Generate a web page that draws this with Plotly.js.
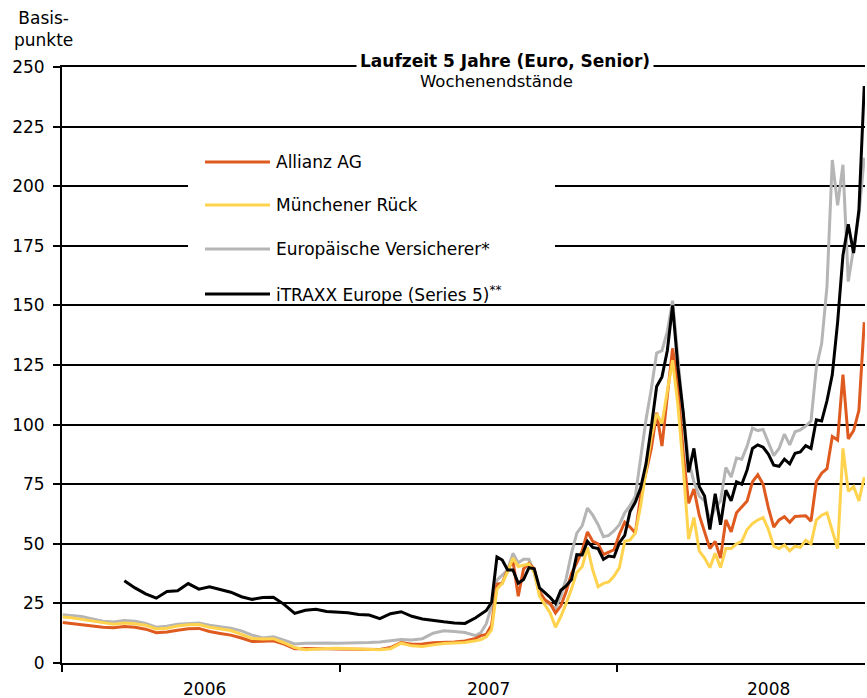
<!DOCTYPE html>
<html>
<head>
<meta charset="utf-8">
<script src="https://cdn.plot.ly/plotly-3.0.1.min.js"></script>
<style>
  body { margin: 0; background: #fff; }
  #chart { width: 867px; height: 698px; }
</style>
</head>
<body>
<div id="chart"></div>
<script>
// weekly closing levels (biweekly until mid 2007), basis points
var dates = [
  '2006-01-02','2006-01-13','2006-01-27','2006-02-10','2006-02-24','2006-03-10','2006-03-24','2006-04-07','2006-04-21','2006-05-05',
  '2006-05-19','2006-06-02','2006-06-16','2006-06-30','2006-07-14','2006-07-28','2006-08-11','2006-08-25','2006-09-08','2006-09-22',
  '2006-10-06','2006-10-20','2006-11-03','2006-11-17','2006-12-01','2006-12-15','2006-12-29',
  '2007-01-12','2007-01-26','2007-02-09','2007-02-23','2007-03-09','2007-03-23','2007-04-06','2007-04-20','2007-05-04','2007-05-18',
  '2007-06-01','2007-06-15','2007-06-29',
  '2007-07-06','2007-07-13','2007-07-20','2007-07-27','2007-08-03','2007-08-10','2007-08-17','2007-08-24','2007-08-31','2007-09-07',
  '2007-09-14','2007-09-21','2007-09-28','2007-10-05','2007-10-12','2007-10-19','2007-10-26','2007-11-02','2007-11-09','2007-11-16',
  '2007-11-23','2007-11-30','2007-12-07','2007-12-14','2007-12-21','2007-12-28',
  '2008-01-04','2008-01-11','2008-01-18','2008-01-25','2008-02-01','2008-02-08','2008-02-15','2008-02-22','2008-02-29','2008-03-07',
  '2008-03-14','2008-03-21','2008-03-28','2008-04-04','2008-04-11','2008-04-18','2008-04-25','2008-05-02','2008-05-09','2008-05-16',
  '2008-05-23','2008-05-30','2008-06-06','2008-06-13','2008-06-20','2008-06-27','2008-07-04','2008-07-11','2008-07-18','2008-07-25',
  '2008-08-01','2008-08-08','2008-08-15','2008-08-22','2008-08-29','2008-09-05','2008-09-12','2008-09-19','2008-09-26','2008-10-03',
  '2008-10-10','2008-10-17','2008-10-24','2008-10-31','2008-11-07','2008-11-14','2008-11-21'
];

var allianz = [
  17.0,16.6,16.0,15.4,15.0,14.8,15.3,15.0,14.2,12.7, 13.0,13.7,14.4,14.5,13.2,12.4,11.7,10.5,9.0,9.1,
  9.3,7.9,6.0,6.1,6.2,6.0,5.9, 5.8,5.6,5.6,5.7,6.5,8.6,7.9,8.0,8.5,8.6,8.8,9.2,10.3,
  11.5,12.0,16.0,33.0,33.5,39.0,43.0,28.0,39.5,41.8, 39.5,30.0,26.5,25.0,21.0,24.0,30.0,37.5,42.0,47.0,
  55.0,51.0,50.0,45.5,46.5,47.5,
  54,59,57,54.5,70,80,90,105,91,112, 132,116,88,67,73,62,55,48,51,44,
  60,55,63,65.6,68,76,79,75,65,57, 60,61.4,59,61.5,61.8,61.8,59.5,76,79.6,81.5,
  95,93.5,121,94,97.5,106,143
];

var muenchener = [
  19.3,19.0,18.3,17.6,16.8,16.3,16.8,16.5,15.8,14.3, 14.6,15.5,16.0,16.1,15.0,14.3,13.6,12.0,10.3,10.1,
  10.2,8.5,6.5,5.6,6.0,6.1,6.2, 6.1,5.9,5.7,5.6,6.0,8.3,7.2,6.9,7.6,8.2,8.4,8.6,9.3,
  9.8,11.0,14,31,33.4,38.3,44.0,40.5,41,41.5, 38,28,24.5,21,15,19.5,25,31,38,40.4,
  48.5,39,32,33.4,34,36.5,
  40,51,51.6,54.5,66,80,95,104.5,100.5,114, 127,108,82,52,61,47,44,40,46,40,
  48,48,50,51,56,58.5,60,61,56,49, 48,49.5,47,49,48.5,51.5,50,60,62,63,
  56,48,90,72,74,68,78
];

var europVers = [
  20.2,19.9,19.5,18.5,17.5,17.2,17.8,17.5,16.6,15.0, 15.4,16.3,16.7,16.8,15.8,15.2,14.6,13.5,11.7,10.5,
  11.0,9.6,8.0,8.3,8.5,8.4,8.3, 8.3,8.4,8.6,8.8,9.3,9.9,9.7,10.2,12.5,13.5,13.2,12.8,11.5,
  12.8,16.5,24,34.8,37,39,46,42,43.5,43.5, 38,28.5,26,24.5,23,28,35.5,46,54.5,57.5,
  65,62,58,53,53.5,55.5,
  58,63,66,70,86,102,115,130,131,139, 152,128,104,85,76,70,68,60,65,68,
  82,78,86,85.5,91,98.5,97.5,98,92.5,87, 90,96,91.5,97,97.8,99.4,101.5,124,134,158,
  211,192,209,160,174,188,212
];

var itraxx = [
  null,null,null,null,null,null,34.5,31.5,29.0,27.2, 30.0,30.3,33.3,31.0,32.0,30.7,29.7,27.8,26.7,27.5,
  27.6,24.6,20.8,22.1,22.5,21.6,21.3, 21.1,20.3,20.1,18.6,20.7,21.5,19.6,18.5,17.8,17.3,16.8,16.6,19.0,
  20.5,22.0,25.5,44.5,43.2,39.0,39.0,33.5,35.0,40.0, 39.5,31.5,29.5,27.5,25.0,30.5,32.3,35.0,45.5,45.3,
  51.0,48.5,48.0,43.5,44.9,44.5,
  50.5,53.5,63.5,67.5,73.5,83.5,99,116,120,131, 150,124,105,80,90,74,70,56,71,58,
  72.5,68,76,75,81,90,91.5,90.5,87.5,83, 82.5,85.5,83.5,88,88.5,91.2,90,102,101.5,110,
  121,143,171,184,172,190,242
];

var names = ['Allianz AG', 'Münchener Rück', 'Europäische Versicherer*', 'iTRAXX Europe (Series 5)<sup>**</sup>'];
var colors = ['#DF5A1E', '#FFD34E', '#B5B5B5', '#000000'];
var yearLabels = ['2006', '2007', '2008'];
var yearLabelPos = ['2006-07-08', '2007-07-16', '2008-07-18'];
var yearTicks = ['2006-01-01', '2007-01-01', '2008-01-01'];

var FONT = 'DejaVu Sans, Verdana, sans-serif';

function line(y, i) {
  return {
    x: dates, y: y, type: 'scatter', mode: 'lines', name: names[i],
    line: {color: colors[i], width: 3}, connectgaps: false,
    showlegend: false, hoverinfo: 'x+y'
  };
}

// draw order: grey, orange, yellow, black on top
var data = [line(europVers, 2), line(allianz, 0), line(muenchener, 1), line(itraxx, 3)];

// pixel -> paper helpers for the hand drawn legend
var L = 62, T = 67, W = 803, H = 596;
function px(x) { return (x - L) / W; }
function py(y) { return (T + H - y) / H; }

// white legend panel hides the grid lines behind it
var shapes = [{
  type: 'rect', xref: 'paper', yref: 'paper', layer: 'above',
  x0: px(188), x1: px(555), y0: py(300), y1: py(135),
  fillcolor: '#ffffff', line: {width: 0}
}];
var annotations = [];
var legendY = [162, 205, 249, 294];
for (var i = 0; i < 4; i++) {
  shapes.push({
    type: 'line', xref: 'paper', yref: 'paper', layer: 'above',
    x0: px(205), x1: px(270), y0: py(legendY[i]), y1: py(legendY[i]),
    line: {color: colors[i], width: 3}
  });
  annotations.push({
    xref: 'paper', yref: 'paper', x: px(274), y: py(legendY[i]),
    xanchor: 'left', yanchor: 'middle', showarrow: false,
    text: names[i], font: {family: FONT, size: 17, color: '#000'}
  });
}

for (var k = 0; k < yearLabels.length; k++) {
  annotations.push({
    xref: 'x', yref: 'paper', x: yearLabelPos[k], y: py(689),
    xanchor: 'center', yanchor: 'middle', showarrow: false,
    text: yearLabels[k], font: {family: FONT, size: 17, color: '#000'}
  });
}

annotations.push({
  xref: 'paper', yref: 'paper', x: px(43), y: py(6),
  xanchor: 'center', yanchor: 'top', showarrow: false, align: 'center',
  text: 'Basis-<br>punkte', font: {family: FONT, size: 17, color: '#000'}
});
annotations.push({
  xref: 'paper', yref: 'paper', x: px(505), y: py(61),
  xanchor: 'center', yanchor: 'middle', showarrow: false,
  text: '<b>Laufzeit 5 Jahre (Euro, Senior)</b>', bgcolor: '#ffffff', borderpad: 3,
  font: {family: FONT, size: 17, color: '#000'}
});
annotations.push({
  xref: 'paper', yref: 'paper', x: px(497), y: py(81),
  xanchor: 'center', yanchor: 'middle', showarrow: false,
  text: 'Wochenendstände', font: {family: FONT, size: 16.5, color: '#000'}
});

var layout = {
  width: 867, height: 698,
  margin: {l: 62, r: 2, t: 67, b: 35},
  paper_bgcolor: '#ffffff', plot_bgcolor: '#ffffff',
  font: {family: FONT, size: 17, color: '#000'},
  showlegend: false,
  xaxis: {
    type: 'date', range: ['2006-01-01', '2008-11-22'],
    tickvals: yearTicks, showticklabels: false,
    ticks: 'outside', ticklen: 7, tickwidth: 2, tickcolor: '#000',
    showline: true, mirror: true, linecolor: '#000', linewidth: 2,
    showgrid: false, zeroline: false
  },
  yaxis: {
    range: [0, 250], dtick: 25, tick0: 0,
    ticks: 'outside', ticklen: 7, tickwidth: 2, tickcolor: '#000',
    ticklabelstandoff: 5,
    showline: true, linecolor: '#000', linewidth: 2,
    showgrid: true, gridcolor: '#000', gridwidth: 2,
    zeroline: false, tickfont: {family: FONT, size: 17, color: '#000'}
  },
  shapes: shapes,
  annotations: annotations
};

Plotly.newPlot('chart', data, layout, {displayModeBar: false, staticPlot: true});
</script>
</body>
</html>
